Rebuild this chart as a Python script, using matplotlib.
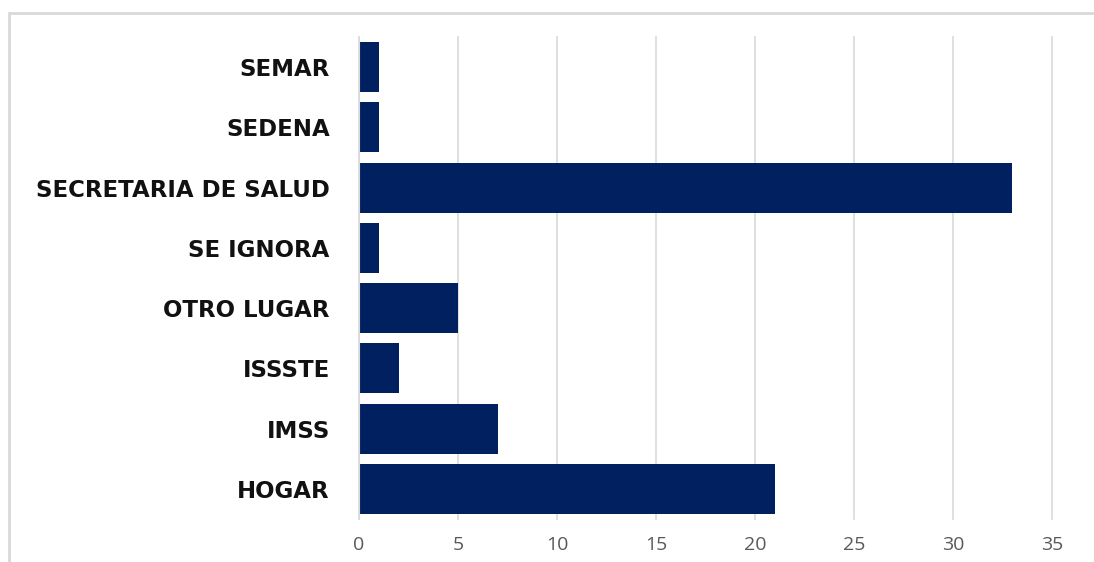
import matplotlib.pyplot as plt
from matplotlib.patches import Rectangle

categories = ["HOGAR", "IMSS", "ISSSTE", "OTRO LUGAR", "SE IGNORA",
              "SECRETARIA DE SALUD", "SEDENA", "SEMAR"]
counts = [21, 7, 2, 5, 1, 33, 1, 1]
x_ticks = [0, 5, 10, 15, 20, 25, 30, 35]

W, H = 1094, 562
fig = plt.figure(figsize=(W / 100, H / 100), dpi=100)

# outer chart border (light gray, runs off right/bottom edges)
fig.patches.append(Rectangle((9 / W, -0.05), 1.2, 1 - 13 / H + 0.05,
                             transform=fig.transFigure, fill=False,
                             edgecolor="#d9d9d9", linewidth=2))

ax = fig.add_axes([359 / W, 43 / H, (1052 - 359) / W, (519 - 37) / H])
ax.barh(range(len(categories)), counts, height=0.83, color="#002060", zorder=3)

ax.set_xlim(0, 35)
ax.set_ylim(-0.5, len(categories) - 0.5)
ax.set_xticks(x_ticks)
ax.set_yticks(range(len(categories)))
ax.set_yticklabels(categories, fontsize=16.5, fontweight="bold",
                   family="DejaVu Sans", color="#111111")
ax.tick_params(axis="x", labelsize=14, colors="#595959", length=0, pad=12)
ax.tick_params(axis="y", length=0, pad=21)
for lab in ax.get_xticklabels():
    lab.set_family("Open Sans")

ax.grid(axis="x", color="#d9d9d9", linewidth=1.2, zorder=0)
for gl in ax.get_xgridlines():
    gl.set_clip_on(False)
for side in ["top", "right", "bottom"]:
    ax.spines[side].set_visible(False)
ax.spines["left"].set_color("#d9d9d9")
ax.spines["left"].set_zorder(4)

fig.savefig("out.png", dpi=100)
